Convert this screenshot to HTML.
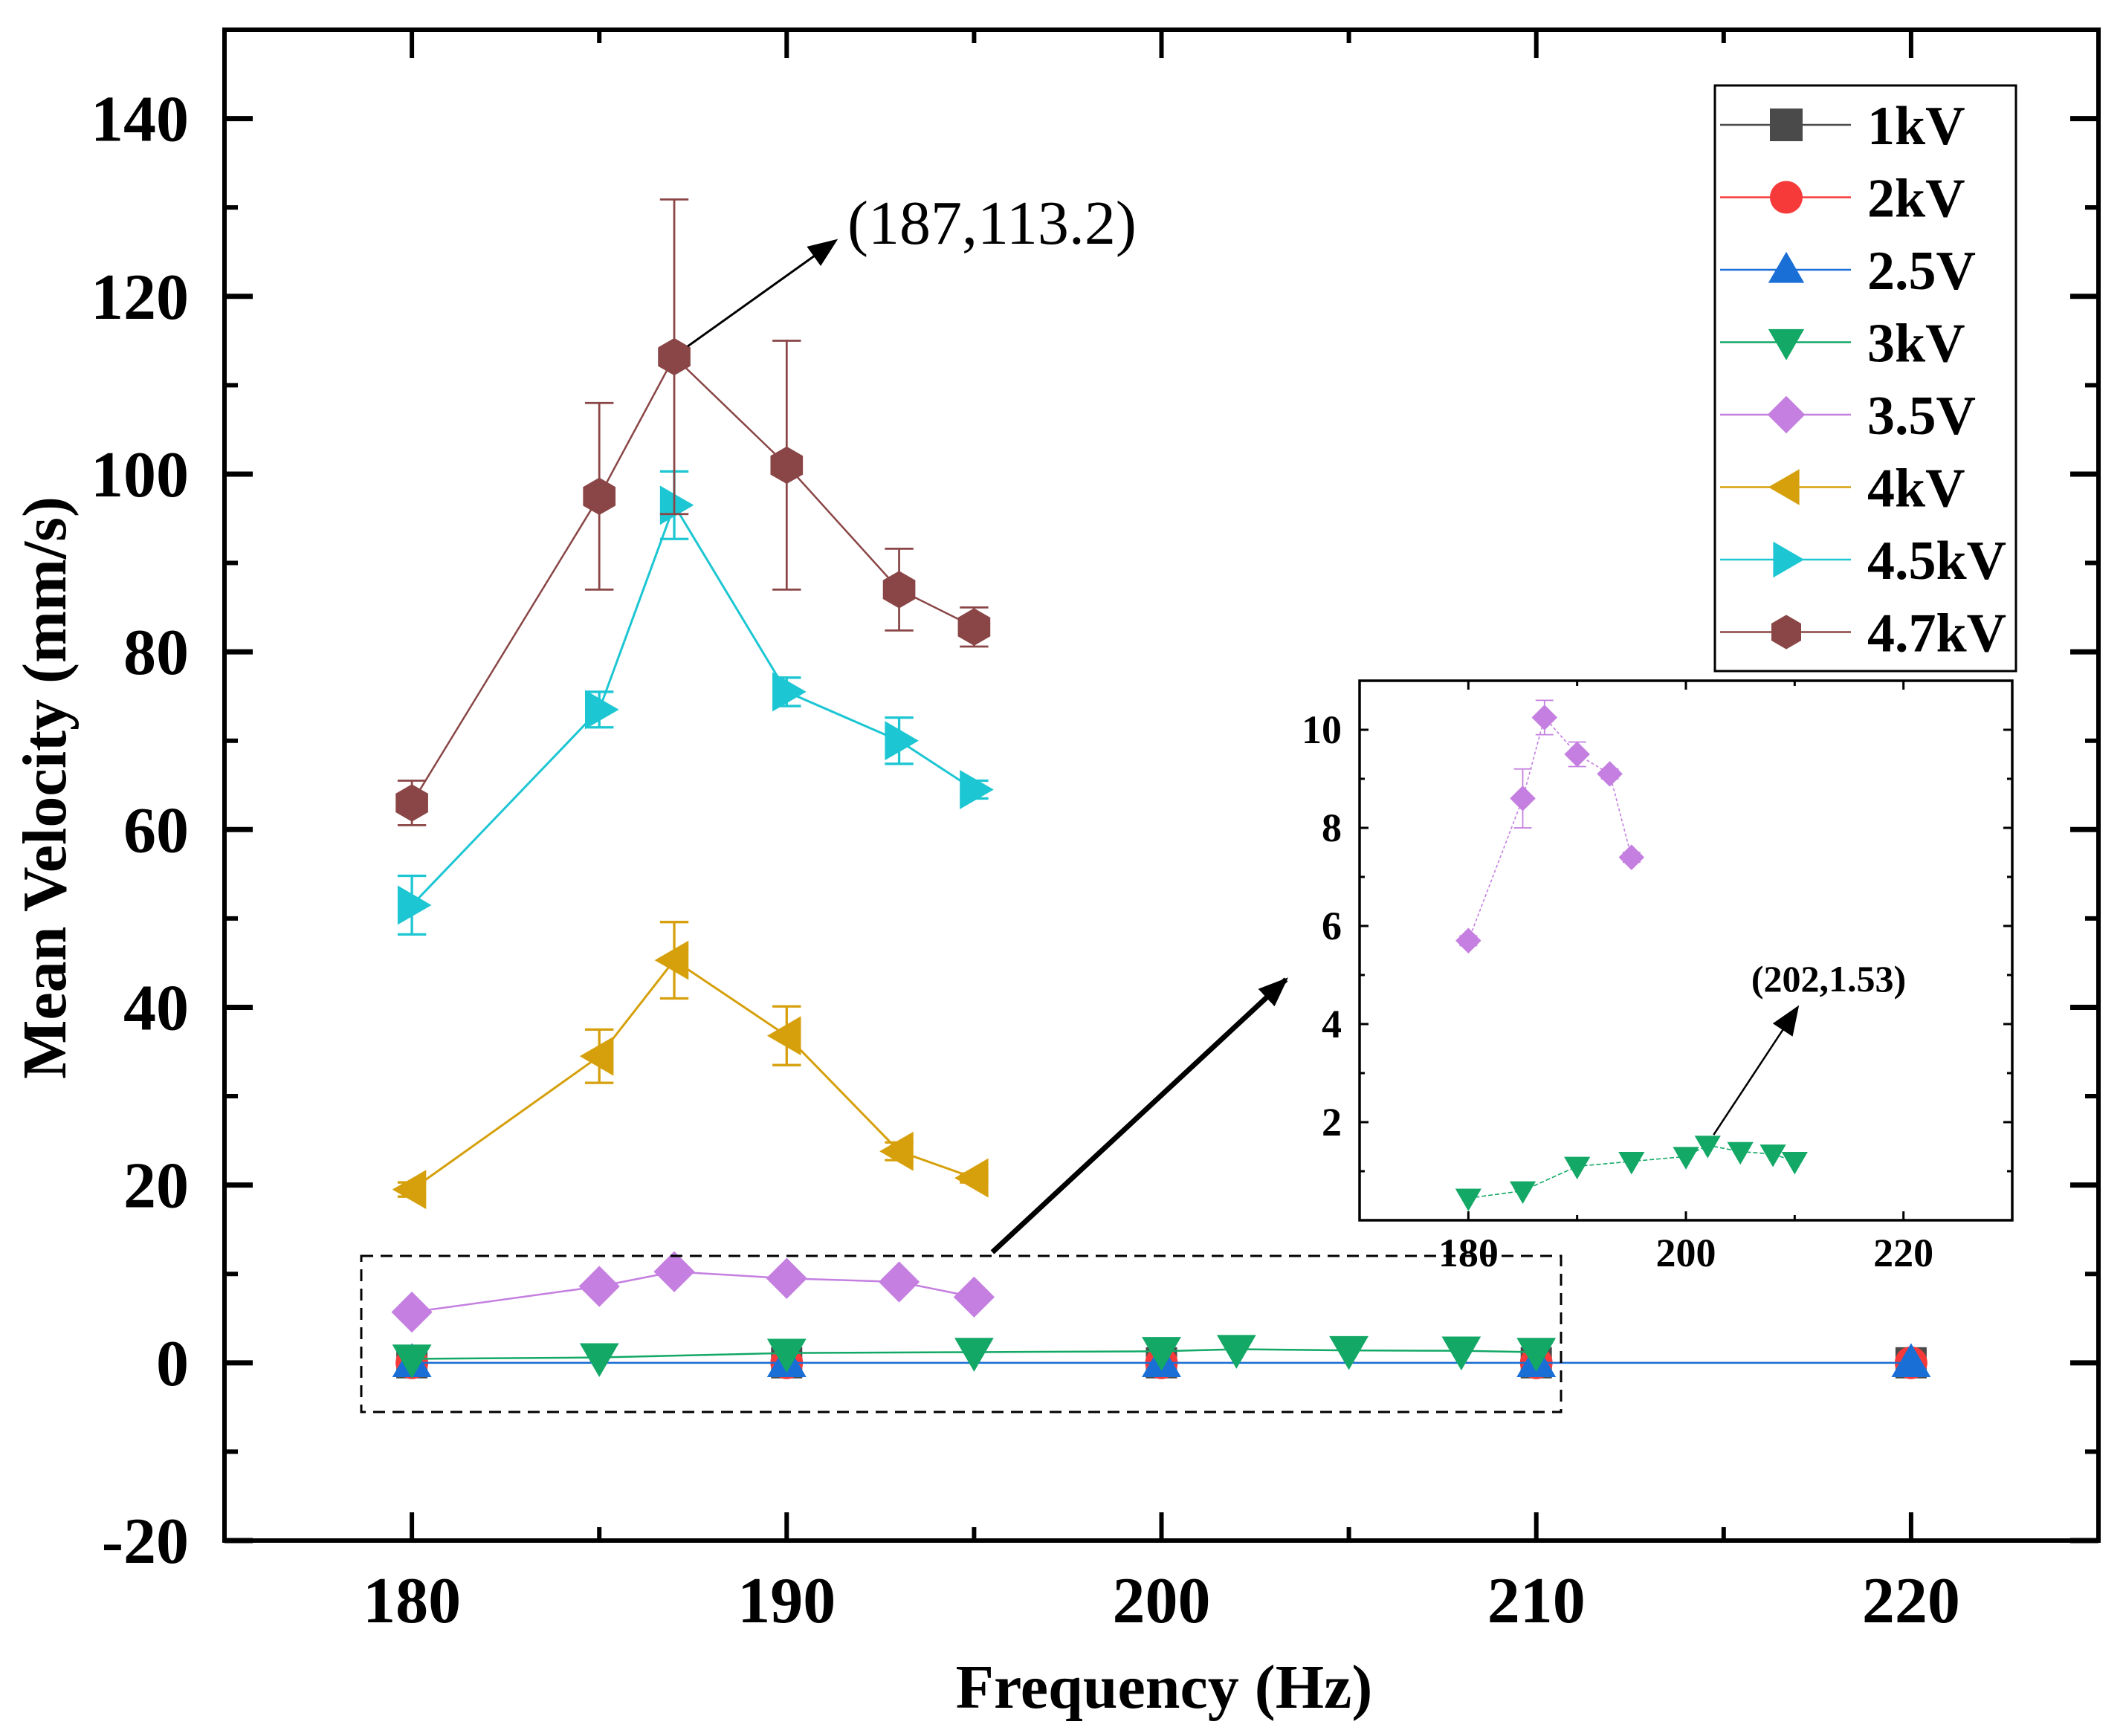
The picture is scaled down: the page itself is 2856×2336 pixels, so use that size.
<!DOCTYPE html>
<html><head><meta charset="utf-8"><style>
html,body{margin:0;padding:0;background:#fff;}
svg{display:block;font-family:"Liberation Serif",serif;}
</style></head><body>
<svg id="chart" width="2856" height="2336" viewBox="0 0 2856 2336" xmlns="http://www.w3.org/2000/svg">
<defs>
<marker id="ah" markerWidth="40" markerHeight="32" refX="9" refY="4" orient="auto" markerUnits="userSpaceOnUse" viewBox="0 0 10 8"><path d="M0,0 L10,4 L0,8 z" fill="#000"/></marker>
</defs>
<g id="main"></g>
<g id="inset"></g>
<g id="legend"></g>
</svg>
<script>
const NS="http://www.w3.org/2000/svg";
// ---- data ----
const freqA=[180,185,187,190,193,195];
const v47=[63,97.5,113.2,101,87,82.8];
const e47=[2.5,10.5,17.7,14,4.6,2.2];
const v45=[51.5,73.5,96.5,75.5,70,64.5];
const e45=[3.3,2.0,3.8,1.6,2.6,1.0];
const v40=[19.5,34.5,45.3,36.8,23.8,20.8];
const e40=[0.8,3.0,4.3,3.3,1.0,0.5];
const v35=[5.7,8.6,10.25,9.5,9.1,7.4];
const e35=[0.1,0.6,0.35,0.25,0.1,0.1];
const freq3=[180,185,190,195,200,202,205,208,210];
const v30=[0.45,0.6,1.1,1.2,1.3,1.53,1.4,1.35,1.2];
const freqLow=[180,190,200,210,220];
const v10=[0,0,0,0,0];
const v20=[0,0,0,0,0];
const v25=[0,0,0,0,0];
const yTicks=[-20,0,20,40,60,80,100,120,140];
const xTicks=[180,190,200,210,220];
const insetYTicks=[2,4,6,8,10];
const insetXTicks=[180,200,220];
const legendLabels=["1kV","2kV","2.5V","3kV","3.5V","4kV","4.5kV","4.7kV"];

function el(tag,attrs,parent){const e=document.createElementNS(NS,tag);for(const k in attrs)e.setAttribute(k,attrs[k]);parent.appendChild(e);return e;}
function marker(parent,shape,cx,cy,s,color){
  let e;const h=s/2;
  if(shape==="square")e=el("rect",{x:cx-h,y:cy-h,width:s,height:s,fill:color},parent);
  else if(shape==="circle")e=el("circle",{cx:cx,cy:cy,r:h,fill:color},parent);
  else{
    let p;
    if(shape==="up")p=[[cx,cy-h*1.1],[cx+h*1.1,cy+h*0.8],[cx-h*1.1,cy+h*0.8]];
    else if(shape==="down")p=[[cx,cy+h*1.1],[cx+h*1.1,cy-h*0.8],[cx-h*1.1,cy-h*0.8]];
    else if(shape==="diamond")p=[[cx,cy-h*1.15],[cx+h*1.15,cy],[cx,cy+h*1.15],[cx-h*1.15,cy]];
    else if(shape==="left")p=[[cx-h*1.1,cy],[cx+h*0.8,cy-h*1.1],[cx+h*0.8,cy+h*1.1]];
    else if(shape==="right")p=[[cx+h*1.1,cy],[cx-h*0.8,cy-h*1.1],[cx-h*0.8,cy+h*1.1]];
    else {p=[];for(let i=0;i<6;i++){const a=Math.PI/3*i-Math.PI/2;p.push([cx+h*1.05*Math.cos(a),cy+h*1.05*Math.sin(a)]);}}
    e=el("polygon",{points:p.map(q=>q.join(",")).join(" "),fill:color},parent);
  }
  return e;
}

// ---- main plot ----
const M=document.getElementById("main");
const L=302,R=2823,T=40,B=2073;
const xmin=175,xmax=225,ymin=-20,ymax=150;
const X=v=>L+(v-xmin)/(xmax-xmin)*(R-L);
const Y=v=>B-(v-ymin)/(ymax-ymin)*(B-T);

function series(parent,xs,ys,errs,color,shape,size,sx,sy,name,lw,dash){
  const g=el("g",{},parent);
  
  
  const ln=el("polyline",{points:xs.map((x,i)=>sx(x)+","+sy(ys[i])).join(" "),fill:"none",stroke:color,"stroke-width":lw},g);
  if(dash)ln.setAttribute("stroke-dasharray",dash);
  if(errs)xs.forEach((x,i)=>{
    const cx=sx(x),y1=sy(ys[i]+errs[i]),y2=sy(ys[i]-errs[i]);
    const cap=size*0.4;
    el("path",{d:`M${cx},${y1}V${y2}M${cx-cap},${y1}H${cx+cap}M${cx-cap},${y2}H${cx+cap}`,stroke:color,"stroke-width":lw*1.1,fill:"none"},g);
  });
  xs.forEach((x,i)=>{
    const m=marker(g,shape,sx(x),sy(ys[i]),size,color);
    
    
  });
}

const C={k1:"#4a4a4a",k2:"#f63a3a",k25:"#1a6fd6",k3:"#13a866",k35:"#c47fe0",k4:"#d6a00c",k45:"#1cc6d2",k47:"#8a4646"};
series(M,freqLow,v10,null,C.k1,"square",42,X,Y,"series-1kv",2);
series(M,freqLow,v20,null,C.k2,"circle",44,X,Y,"series-2kv",2);
series(M,freqLow,v25,null,C.k25,"up",48,X,Y,"series-2-5v",2.5);
series(M,freq3,v30,null,C.k3,"down",48,X,Y,"series-3kv",2.5);
series(M,freqA,v35,null,C.k35,"diamond",48,X,Y,"series-3-5v",2.5);
series(M,freqA,v40,e40,C.k4,"left",48,X,Y,"series-4kv",3);
series(M,freqA,v45,e45,C.k45,"right",48,X,Y,"series-4-5kv",3);
series(M,freqA,v47,e47,C.k47,"hex",48,X,Y,"series-4-7kv",2.5);

const fr=el("rect",{x:L,y:T,width:R-L,height:B-T,fill:"none",stroke:"#000","stroke-width":6},M);

yTicks.forEach(v=>{
  const y=Y(v);
  el("line",{x1:L,x2:L+38,y1:y,y2:y,stroke:"#000","stroke-width":7},M);
  el("line",{x1:R,x2:R-38,y1:y,y2:y,stroke:"#000","stroke-width":7},M);
  const ym=Y(v+10);
  if(v+10<ymax){el("line",{x1:L,x2:L+18,y1:ym,y2:ym,stroke:"#000","stroke-width":6},M);el("line",{x1:R,x2:R-18,y1:ym,y2:ym,stroke:"#000","stroke-width":6},M);}
  const t=el("text",{x:L-48,y:y+30,"text-anchor":"end","font-size":88,"font-weight":"bold"},M);
  t.textContent=v;
  
});
for(let v=175;v<=225;v+=5){
  const x=X(v);const major=(v%10===0);
  el("line",{x1:x,x2:x,y1:B,y2:B-(major?38:18),stroke:"#000","stroke-width":6},M);
  el("line",{x1:x,x2:x,y1:T,y2:T+(major?38:18),stroke:"#000","stroke-width":6},M);
}
xTicks.forEach(v=>{
  const t=el("text",{x:X(v),y:2183,"text-anchor":"middle","font-size":88,"font-weight":"bold"},M);
  t.textContent=v;
  
});
const xt=el("text",{x:1566,y:2298,"text-anchor":"middle","font-size":84,"font-weight":"bold"},M);
xt.textContent="Frequency (Hz)";
const yt=el("text",{x:0,y:0,"text-anchor":"middle","font-size":84,"font-weight":"bold",transform:"translate(88,1060) rotate(-90)"},M);
yt.textContent="Mean Velocity (mm/s)";

const a1=el("line",{x1:X(187)+18,y1:Y(113.2)-14,x2:1124,y2:324,stroke:"#000","stroke-width":3,"marker-end":"url(#ah)"},M);

const at=el("text",{x:1140,y:328,"font-size":84},M);
at.textContent="(187,113.2)";

const db=el("rect",{x:486,y:1690,width:1614,height:210,fill:"none",stroke:"#000","stroke-width":3,"stroke-dasharray":"16,10"},M);

const za=el("line",{x1:1335,y1:1685,x2:1730,y2:1318,stroke:"#000","stroke-width":7,"marker-end":"url(#ah)"},M);


// ---- inset ----
const I=document.getElementById("inset");
const iL=1829,iR=2707,iT=916,iB=1642;
const IX=v=>iL+(v-170)/(230-170)*(iR-iL);
const IY=v=>iB-(v-0)/(11-0)*(iB-iT);
el("rect",{x:iL,y:iT,width:iR-iL,height:iB-iT,fill:"#fff",stroke:"none"},I);
series(I,freqA,v35,e35,C.k35,"diamond",30,IX,IY,"inset-series-3-5v",1.6,"4,3");
series(I,freq3,v30,null,C.k3,"down",32,IX,IY,"inset-series-3kv",1.6,"6,3");
const ifr=el("rect",{x:iL,y:iT,width:iR-iL,height:iB-iT,fill:"none",stroke:"#000","stroke-width":3.5},I);

for(let v=1;v<=11;v++){
  const y=IY(v);const major=(v%2===0);
  el("line",{x1:iL,x2:iL+(major?12:7),y1:y,y2:y,stroke:"#000","stroke-width":3},I);
  el("line",{x1:iR,x2:iR-(major?12:7),y1:y,y2:y,stroke:"#000","stroke-width":3},I);
}
insetYTicks.forEach(v=>{
  const t=el("text",{x:iL-24,y:IY(v)+18,"text-anchor":"end","font-size":54,"font-weight":"bold"},I);
  t.textContent=v;
});
for(let v=170;v<=230;v+=10){
  const x=IX(v);const major=(v%20===0);
  el("line",{x1:x,x2:x,y1:iB,y2:iB-(major?12:7),stroke:"#000","stroke-width":3},I);
  el("line",{x1:x,x2:x,y1:iT,y2:iT+(major?12:7),stroke:"#000","stroke-width":3},I);
}
insetXTicks.forEach(v=>{
  const t=el("text",{x:IX(v),y:1704,"text-anchor":"middle","font-size":54,"font-weight":"bold"},I);
  t.textContent=v;
});
const ia=el("line",{x1:IX(202)+8,y1:IY(1.53)-14,x2:2418,y2:1356,stroke:"#000","stroke-width":2.5,"marker-end":"url(#ah)"},I);

const it=el("text",{x:2460,y:1334,"text-anchor":"middle","font-size":50,"font-weight":"bold"},I);
it.textContent="(202,1.53)";

// ---- legend ----
const G=document.getElementById("legend");
const lb=el("rect",{x:2307,y:115,width:405,height:788,fill:"#fff",stroke:"#000","stroke-width":3},G);

const lc=[C.k1,C.k2,C.k25,C.k3,C.k35,C.k4,C.k45,C.k47];
const ls=["square","circle","up","down","diamond","left","right","hex"];
legendLabels.forEach((lab,i)=>{
  const y=168+i*97.5;
  const g=el("g",{},G);
  
  
  el("line",{x1:2314,x2:2490,y1:y,y2:y,stroke:lc[i],"stroke-width":2.5},g);
  marker(g,ls[i],2403,y,44,lc[i]);
  const t=el("text",{x:2512,y:y+26,"font-size":74,"font-weight":"bold"},g);
  t.textContent=lab;
});
</script>
</body></html>
